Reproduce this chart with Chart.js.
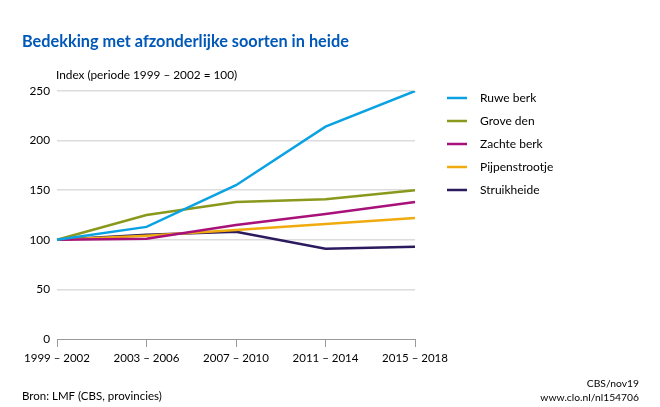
<!DOCTYPE html>
<html>
<head>
<meta charset="utf-8">
<script src="https://cdn.jsdelivr.net/npm/chart.js@4"></script>
<style>
  html, body { margin: 0; padding: 0; background: #fff; }
  #wrap { position: relative; width: 660px; height: 407px; }
</style>
</head>
<body>
<div id="wrap"><canvas id="myChart" width="660" height="407"></canvas></div>
<script>
const perioden = ['1999 – 2002', '2003 – 2006', '2007 – 2010', '2011 – 2014', '2015 – 2018'];
const ruweBerk = [100, 113, 155, 214, 250];
const groveDen = [100, 125, 138, 141, 150];
const zachteBerk = [100, 101, 115, 126, 138];
const pijpenstrootje = [100, 104, 110, 116, 122];
const struikheide = [100, 105, 108, 91, 93];
const yTicks = [0, 50, 100, 150, 200, 250];

const fontFam = 'Lato, "Open Sans", sans-serif';

function maakSerie(label, data, kleur) {
    return {
        label: label,
        data: data,
        borderColor: kleur,
        backgroundColor: kleur,
        borderWidth: 2.5,
        pointRadius: 0,
        tension: 0,
        fill: false
    };
}

// teksten en legenda zelf tekenen
const tekstPlugin = {
    id: 'teksten',
    afterDraw(chart) {
        let ctx = chart.ctx;
        ctx.save();
        ctx.textBaseline = 'middle';
        ctx.fillStyle = '#0058b8';
        ctx.font = 'bold 16.3px ' + fontFam;
        ctx.textAlign = 'left';
        ctx.fillText('Bedekking met afzonderlijke soorten in heide', 22, 42);

        ctx.fillStyle = '#000';
        ctx.font = '11.8px ' + fontFam;
        ctx.fillText('Index (periode 1999 – 2002 = 100)', 56, 75);
        ctx.font = '11.5px ' + fontFam;
        ctx.fillText('Bron: LMF (CBS, provincies)', 22, 396);

        ctx.font = '10.3px ' + fontFam;
        ctx.textAlign = 'right';
        ctx.fillText('CBS/nov19', 639, 384);
        ctx.fillText('www.clo.nl/nl154706', 639, 398);

        // legenda
        ctx.textAlign = 'left';
        ctx.font = '12px ' + fontFam;
        chart.data.datasets.forEach(function(ds, i) {
            let y = 98 + i * 23;
            ctx.strokeStyle = ds.borderColor;
            ctx.lineWidth = 2.5;
            ctx.beginPath();
            ctx.moveTo(447, y);
            ctx.lineTo(467, y);
            ctx.stroke();
            ctx.fillStyle = '#000';
            ctx.fillText(ds.label, 480, y);
        });
        ctx.restore();
    }
};

let ctx = document.getElementById('myChart').getContext('2d');
let grafiek = new Chart(ctx, {
    type: 'line',
    data: {
        labels: perioden,
        datasets: [
            maakSerie('Ruwe berk', ruweBerk, '#0aa2e2'),
            maakSerie('Grove den', groveDen, '#8a981c'),
            maakSerie('Zachte berk', zachteBerk, '#a8117a'),
            maakSerie('Pijpenstrootje', pijpenstrootje, '#f0ab0f'),
            maakSerie('Struikheide', struikheide, '#2b1a5e')
        ]
    },
    options: {
        responsive: false,
        animation: false,
        layout: { padding: { left: 0, right: 245, top: 91, bottom: 0 } },
        plugins: {
            legend: { display: false },
            tooltip: { enabled: false }
        },
        scales: {
            x: {
                offset: false,
                afterFit: function(s) { s.height = 68; },
                grid: {
                    drawOnChartArea: false,
                    drawTicks: true,
                    tickLength: 8,
                    color: '#9a9a9a',
                    lineWidth: 1
                },
                border: { display: true, color: '#9a9a9a', width: 1 },
                ticks: {
                    color: '#000',
                    maxRotation: 0,
                    padding: 4,
                    font: { family: fontFam, size: 11.5 }
                }
            },
            y: {
                min: 0,
                max: 250,
                afterFit: function(s) { s.width = 57; },
                afterBuildTicks: function(s) { s.ticks = yTicks.map(v => ({ value: v })); },
                grid: {
                    drawTicks: false,
                    color: function(c) { return c.tick.value === 0 ? 'rgba(0,0,0,0)' : '#dcdcdc'; },
                    lineWidth: 1.5
                },
                border: { display: false },
                ticks: {
                    color: '#000',
                    padding: 7,
                    font: { family: fontFam, size: 11.8 }
                }
            }
        }
    },
    plugins: [tekstPlugin]
});
</script>
</body>
</html>
